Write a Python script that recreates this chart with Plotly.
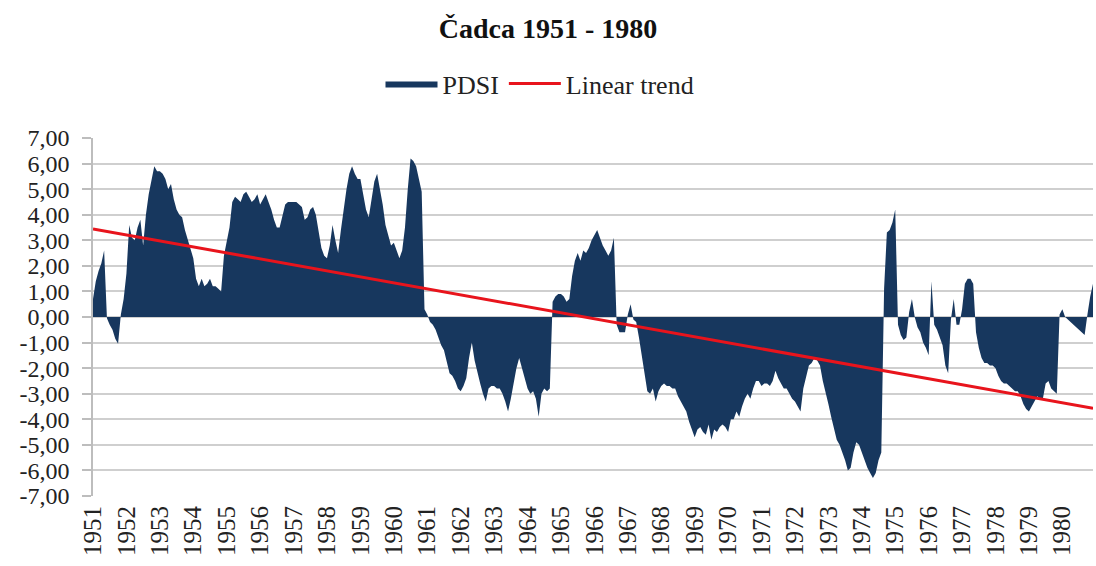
import numpy as np
import plotly.graph_objects as go

# Monthly PDSI values for Čadca, one list per year (Jan..Dec)
pdsi_1951 = [0.7, 1.4, 1.8, 2.1, 2.6, -0.05, -0.3, -0.5, -0.85, -1.05, 0.1, 0.7]
pdsi_1952 = [1.7, 3.6, 3.1, 3.0, 3.5, 3.8, 2.8, 4.0, 4.8, 5.4, 5.9, 5.7]
pdsi_1953 = [5.7, 5.6, 5.4, 5.0, 5.2, 4.6, 4.2, 4.0, 3.9, 3.4, 3.0, 2.6]
pdsi_1954 = [2.3, 1.5, 1.2, 1.5, 1.2, 1.3, 1.5, 1.2, 1.2, 1.1, 1.0, 2.4]
pdsi_1955 = [3.0, 3.5, 4.5, 4.7, 4.6, 4.5, 4.8, 4.9, 4.7, 4.5, 4.6, 4.8]
pdsi_1956 = [4.4, 4.6, 4.8, 4.5, 4.2, 3.8, 3.5, 3.5, 3.9, 4.4, 4.5, 4.5]
pdsi_1957 = [4.5, 4.5, 4.4, 4.3, 3.8, 3.9, 4.2, 4.3, 4.0, 3.3, 2.7, 2.4]
pdsi_1958 = [2.3, 2.8, 3.6, 3.0, 2.5, 3.4, 4.3, 5.0, 5.6, 5.9, 5.6, 5.4]
pdsi_1959 = [5.4, 4.8, 4.2, 3.9, 4.6, 5.3, 5.6, 5.0, 4.4, 3.6, 3.2, 2.8]
pdsi_1960 = [2.9, 2.6, 2.3, 2.6, 3.5, 5.0, 6.2, 6.1, 5.9, 5.4, 4.9, 0.3]
pdsi_1961 = [0.1, -0.2, -0.3, -0.5, -0.8, -1.1, -1.3, -1.7, -2.2, -2.3, -2.5, -2.8]
pdsi_1962 = [-2.9, -2.7, -2.4, -1.6, -1.0, -1.7, -2.2, -2.6, -3.0, -3.3, -2.8, -2.7]
pdsi_1963 = [-2.7, -2.8, -2.8, -3.0, -3.3, -3.7, -3.2, -2.6, -2.0, -1.6, -2.0, -2.5]
pdsi_1964 = [-2.8, -3.0, -2.9, -3.2, -3.9, -3.0, -2.8, -2.9, -2.8, 0.6, 0.8, 0.9]
pdsi_1965 = [0.9, 0.8, 0.6, 0.7, 1.6, 2.2, 2.5, 2.2, 2.6, 2.5, 2.7, 3.0]
pdsi_1966 = [3.2, 3.4, 3.1, 2.8, 2.6, 2.4, 2.6, 3.1, -0.3, -0.6, -0.6, -0.6]
pdsi_1967 = [0.1, 0.5, -0.1, -0.2, -0.8, -1.5, -2.3, -2.9, -3.0, -2.8, -3.3, -2.9]
pdsi_1968 = [-2.7, -2.6, -2.7, -2.7, -2.8, -2.8, -3.1, -3.3, -3.5, -3.7, -4.1, -4.4]
pdsi_1969 = [-4.7, -4.4, -4.3, -4.5, -4.6, -4.2, -4.8, -4.4, -4.5, -4.3, -4.2, -4.3]
pdsi_1970 = [-4.5, -4.0, -4.0, -3.7, -3.9, -3.5, -3.2, -3.0, -3.2, -2.8, -2.5, -2.5]
pdsi_1971 = [-2.7, -2.6, -2.6, -2.7, -2.5, -2.1, -2.4, -2.6, -2.8, -2.8, -3.0, -3.2]
pdsi_1972 = [-3.3, -3.5, -3.7, -2.8, -2.3, -1.9, -1.8, -1.6, -1.7, -1.9, -2.5, -2.9]
pdsi_1973 = [-3.4, -3.9, -4.3, -4.8, -5.0, -5.3, -5.6, -6.0, -5.9, -5.3, -4.9, -5.0]
pdsi_1974 = [-5.3, -5.6, -5.9, -6.1, -6.3, -6.1, -5.6, -5.3, 1.1, 3.3, 3.4, 3.7]
pdsi_1975 = [4.2, -0.3, -0.7, -0.9, -0.8, 0.2, 0.7, 0.0, -0.4, -0.6, -1.0, -1.2]
pdsi_1976 = [-1.5, 1.4, -0.3, -0.5, -0.8, -1.1, -1.9, -2.2, -0.1, 0.7, -0.3, -0.3]
pdsi_1977 = [0.3, 1.3, 1.5, 1.5, 1.3, -0.6, -1.2, -1.6, -1.8, -1.8, -1.9, -1.9]
pdsi_1978 = [-2.0, -2.3, -2.5, -2.6, -2.6, -2.7, -2.8, -2.9, -2.9, -3.1, -3.4, -3.6]
pdsi_1979 = [-3.7, -3.5, -3.3, -3.1, -3.2, -3.2, -2.6, -2.5, -2.8, -2.9, -3.0, 0.1]
pdsi_1980 = [0.3, 0.0, -0.1, -0.2, -0.3, -0.4, -0.5, -0.6, -0.7, 0.1, 0.8, 1.3]

years = list(range(1951, 1981))
pdsi = (pdsi_1951 + pdsi_1952 + pdsi_1953 + pdsi_1954 + pdsi_1955 + pdsi_1956
        + pdsi_1957 + pdsi_1958 + pdsi_1959 + pdsi_1960 + pdsi_1961 + pdsi_1962
        + pdsi_1963 + pdsi_1964 + pdsi_1965 + pdsi_1966 + pdsi_1967 + pdsi_1968
        + pdsi_1969 + pdsi_1970 + pdsi_1971 + pdsi_1972 + pdsi_1973 + pdsi_1974
        + pdsi_1975 + pdsi_1976 + pdsi_1977 + pdsi_1978 + pdsi_1979 + pdsi_1980)
months = np.arange(len(pdsi))

y_ticks = list(range(-7, 8))
y_labels = [f"{v:.2f}".replace(".", ",") for v in y_ticks]

# least-squares linear trend over the whole record
slope, intercept = np.polyfit(months, pdsi, 1)
trend = intercept + slope * months

NAVY = "#17375e"
RED = "#e8141c"
GRID = "#cfcfcf"
FONT = "Liberation Serif"

fig = go.Figure()
fig.add_trace(go.Scatter(
    x=months, y=pdsi, name="PDSI", mode="lines",
    fill="tozeroy", fillcolor=NAVY,
    line=dict(width=0, color=NAVY),
))
fig.add_trace(go.Scatter(
    x=months, y=trend, name="Linear trend", mode="lines",
    line=dict(width=3, color=RED),
))

fig.update_layout(
    width=1096, height=566,
    margin=dict(l=93, r=3, t=138, b=70),
    paper_bgcolor="white", plot_bgcolor="white",
    font=dict(family=FONT, size=22, color="#222222"),
    title=dict(text="<b>Čadca 1951 - 1980</b>", x=0.5, xanchor="center",
               y=1 - 28 / 566, yanchor="middle", yref="container",
               font=dict(family=FONT, size=28, color="#111111")),
    showlegend=True,
    legend=dict(orientation="h", x=0.447, xanchor="center", y=1.152,
                yanchor="middle", font=dict(family=FONT, size=26, color="#222222"),
                itemwidth=52, bgcolor="rgba(0,0,0,0)"),
    xaxis=dict(
        range=[0, len(pdsi) - 1],
        tickmode="array",
        tickvals=[12 * i for i in range(len(years))],
        ticktext=[str(y) for y in years],
        tickangle=-90,
        tickfont=dict(family=FONT, size=25, color="#222222"),
        ticklabelstandoff=4,
        showgrid=False, zeroline=False,
        showline=False, ticks="",
    ),
    yaxis=dict(
        range=[-7, 7],
        tickmode="array",
        tickvals=y_ticks,
        ticktext=y_labels,
        tickfont=dict(family=FONT, size=24, color="#222222"),
        ticklabelstandoff=8,
        showgrid=True, gridcolor=GRID, gridwidth=2,
        zeroline=False,
        showline=True, linecolor="#bdbdbd", linewidth=1.5,
        ticks="outside", ticklen=9, tickcolor="#bdbdbd", tickwidth=1.5,
    ),
)

fig.write_html("out.html")
